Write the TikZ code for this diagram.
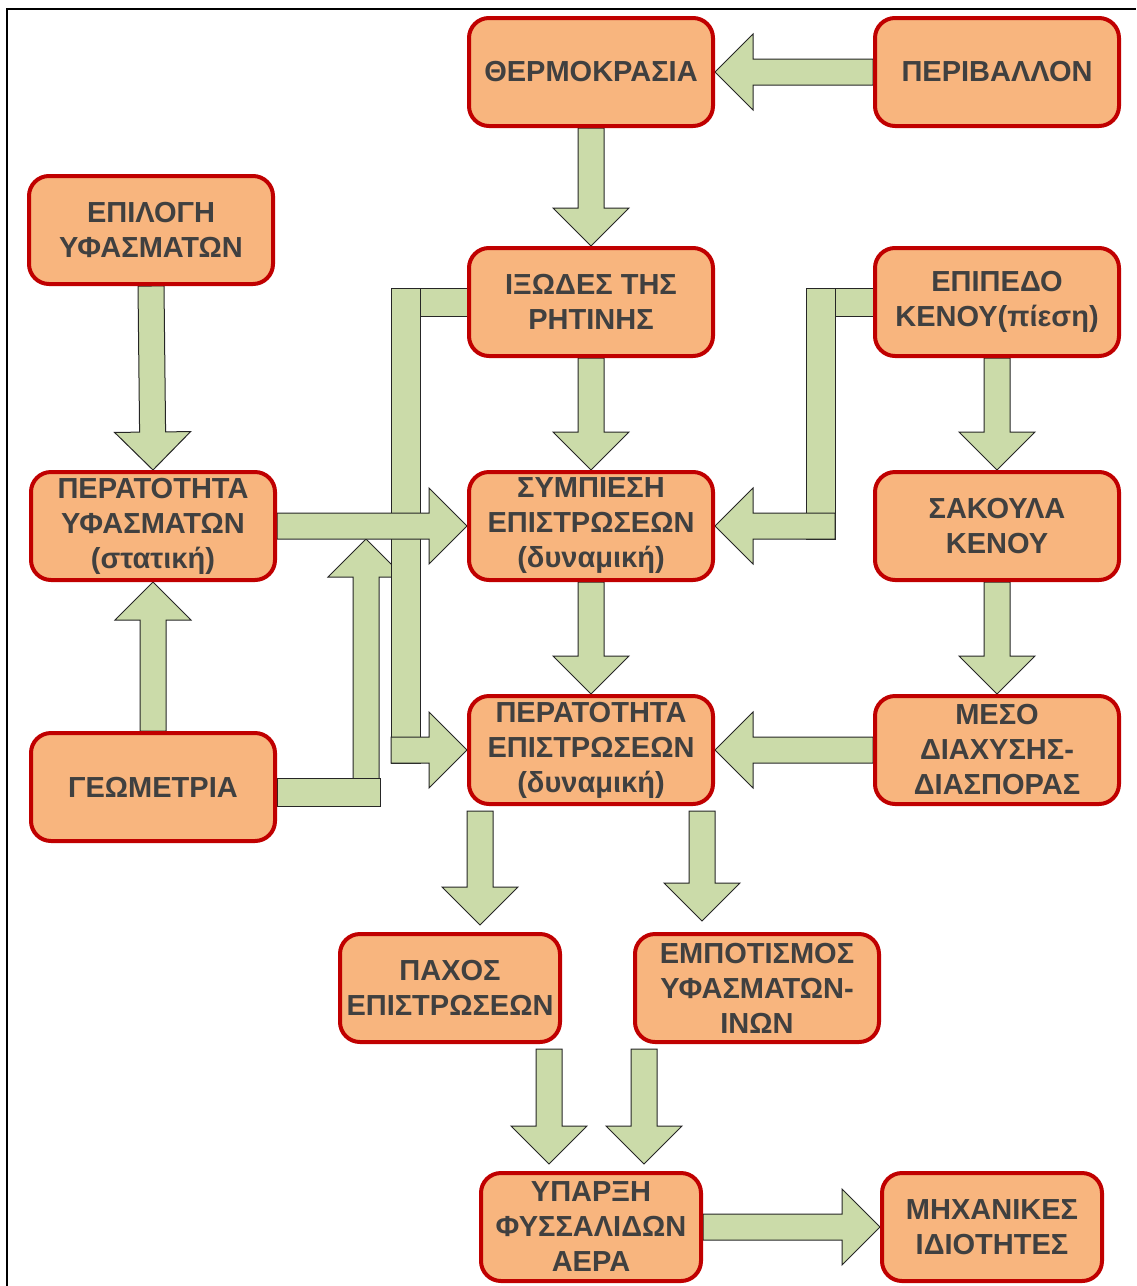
\documentclass[tikz,border=0pt]{standalone}
\usepackage{fontspec}
\setmainfont{Liberation Sans}
\usetikzlibrary{calc,backgrounds}

\definecolor{boxfill}{HTML}{F8B57E}
\definecolor{boxline}{HTML}{C00000}
\definecolor{boxtext}{HTML}{404040}
\definecolor{arrowfill}{HTML}{CBDBA9}

% block arrow from #1 to tip #2
\newcommand{\fatw}{13pt}
\newcommand{\fath}{38pt}
\newcommand{\fatl}{38pt}
\newcommand{\fatarrow}[2]{%
  \draw[fatarrow] ($(#1)!\fatw!90:(#2)$)
    -- ($(#2)!\fatl!(#1)!\fatw!-90:(#1)$)
    -- ($(#2)!\fatl!(#1)!\fath!-90:(#1)$)
    -- (#2)
    -- ($(#2)!\fatl!(#1)!\fath!90:(#1)$)
    -- ($(#2)!\fatl!(#1)!\fatw!90:(#1)$)
    -- ($(#1)!\fatw!-90:(#2)$) -- cycle;}

\begin{document}
\begin{tikzpicture}[x=1pt, y=-1pt,
  box/.style={draw=boxline, line width=4pt, fill=boxfill, rounded corners=20pt,
    minimum width=244pt, minimum height=108pt, inner sep=0pt, align=center,
    text=boxtext, font=\fontsize{29}{35}\selectfont\bfseries},
  narrowbox/.style={box, minimum width=220pt},
  fatarrow/.style={draw=black!85, line width=1pt, fill=arrowfill, line join=miter},
  fatbar/.style={draw=black!85, line width=1pt, fill=arrowfill}]
\useasboundingbox (0,0) rectangle (1136,1286);
\draw[line width=2.5pt] (7,1286) -- (7,9) -- (1136,9);

\node[box] (thermo) at (591,72) {ΘΕΡΜΟΚΡΑΣΙΑ};
\node[box] (environ) at (997,72) {ΠΕΡΙΒΑΛΛΟΝ};
\node[box] (fabsel) at (151,230) {ΕΠΙΛΟΓΗ\\ΥΦΑΣΜΑΤΩΝ};
\node[box] (viscos) at (591,302) {ΙΞΩΔΕΣ ΤΗΣ\\ΡΗΤΙΝΗΣ};
\node[box] (vaclevel) at (997,302) {ΕΠΙΠΕΔΟ\\ΚΕΝΟΥ(πίεση)};
\node[box] (fabperm) at (153,526) {ΠΕΡΑΤΟΤΗΤΑ\\ΥΦΑΣΜΑΤΩΝ\\(στατική)};
\node[box] (compact) at (591,526) {ΣΥΜΠΙΕΣΗ\\ΕΠΙΣΤΡΩΣΕΩΝ\\(δυναμική)};
\node[box] (vacbag) at (997,526) {ΣΑΚΟΥΛΑ\\ΚΕΝΟΥ};
\node[box] (geometry) at (153,787) {ΓΕΩΜΕΤΡΙΑ};
\node[box] (lamperm) at (591,750) {ΠΕΡΑΤΟΤΗΤΑ\\ΕΠΙΣΤΡΩΣΕΩΝ\\(δυναμική)};
\node[box] (medium) at (997,750) {ΜΕΣΟ\\ΔΙΑΧΥΣΗΣ-\\ΔΙΑΣΠΟΡΑΣ};
\node[narrowbox] (thick) at (450,988) {ΠΑΧΟΣ\\ΕΠΙΣΤΡΩΣΕΩΝ};
\node[box] (impreg) at (757,988) {ΕΜΠΟΤΙΣΜΟΣ\\ΥΦΑΣΜΑΤΩΝ-\\ΙΝΩΝ};
\node[narrowbox] (voids) at (591,1227) {ΥΠΑΡΞΗ\\ΦΥΣΣΑΛΙΔΩΝ\\ΑΕΡΑ};
\node[narrowbox] (mech) at (992,1227) {ΜΗΧΑΝΙΚΕΣ\\ΙΔΙΟΤΗΤΕΣ};

% knees and free ends
\coordinate (geoknee) at ([xshift=89pt,yshift=-5pt]geometry.east);
\coordinate (geotop) at (geoknee |- fabperm.east);
\coordinate (geotip) at ([yshift=-13pt]geotop);
\coordinate (visknee) at ([xshift=-61pt]viscos.west);
\coordinate (visfoot) at (visknee |- lamperm.west);
\coordinate (visstart) at ([xshift=-15pt]visfoot);
\coordinate (vacknee) at ([xshift=-53pt]vaclevel.west);
\coordinate (vacfoot) at (vacknee |- compact.east);
\coordinate (vacstart) at ([xshift=15pt]vacfoot);
\coordinate (lamleft) at ([xshift=-111pt,yshift=-5pt]lamperm.south);
\coordinate (lamright) at ([xshift=111pt,yshift=-5pt]lamperm.south);
\coordinate (thicktip) at ([xshift=30pt,yshift=7pt]thick.north);
\coordinate (impregtip) at ([xshift=-55pt,yshift=11pt]impreg.north);
\coordinate (thickout) at ([xshift=99pt,yshift=-5pt]thick.south);
\coordinate (impregout) at ([xshift=-113pt,yshift=-5pt]impreg.south);
\coordinate (voidsleft) at ([xshift=-42pt,yshift=7pt]voids.north);
\coordinate (voidsright) at ([xshift=53pt,yshift=7pt]voids.north);

\begin{pgfonlayer}{background}
% geometry -> fabric permeability arrow
\fatarrow{geoknee}{geotip}
\draw[fatbar] ([yshift=9pt]geometry.east) rectangle ([xshift=14pt,yshift=-14pt]geoknee);
% viscosity -> laminate permeability
\draw[fatbar] ([yshift=14pt]visknee) rectangle ([yshift=-14pt]viscos.west);
\draw[fatbar] ([xshift=-15pt,yshift=14pt]visknee) rectangle ([xshift=14pt,yshift=-13pt]visfoot);
\fatarrow{visstart}{lamperm.west}
\fatarrow{fabperm.east}{compact.west}
% vacuum level -> compaction
\draw[fatbar] ([yshift=14pt]vacknee) rectangle ([yshift=-14pt]vaclevel.west);
\draw[fatbar] ([xshift=-14pt,yshift=14pt]vacknee) rectangle ([xshift=15pt,yshift=-13pt]vacfoot);
\fatarrow{vacstart}{compact.east}
% straight ones
\fatarrow{environ.west}{thermo.east}
\fatarrow{thermo.south}{viscos.north}
\fatarrow{fabsel.south}{fabperm.north}
\fatarrow{viscos.south}{compact.north}
\fatarrow{vaclevel.south}{vacbag.north}
\fatarrow{compact.south}{lamperm.north}
\fatarrow{vacbag.south}{medium.north}
\fatarrow{medium.west}{lamperm.east}
\fatarrow{geometry.north}{fabperm.south}
\fatarrow{lamleft}{thicktip}
\fatarrow{lamright}{impregtip}
\fatarrow{thickout}{voidsleft}
\fatarrow{impregout}{voidsright}
\fatarrow{voids.east}{mech.west}
\end{pgfonlayer}
\end{tikzpicture}
\end{document}
